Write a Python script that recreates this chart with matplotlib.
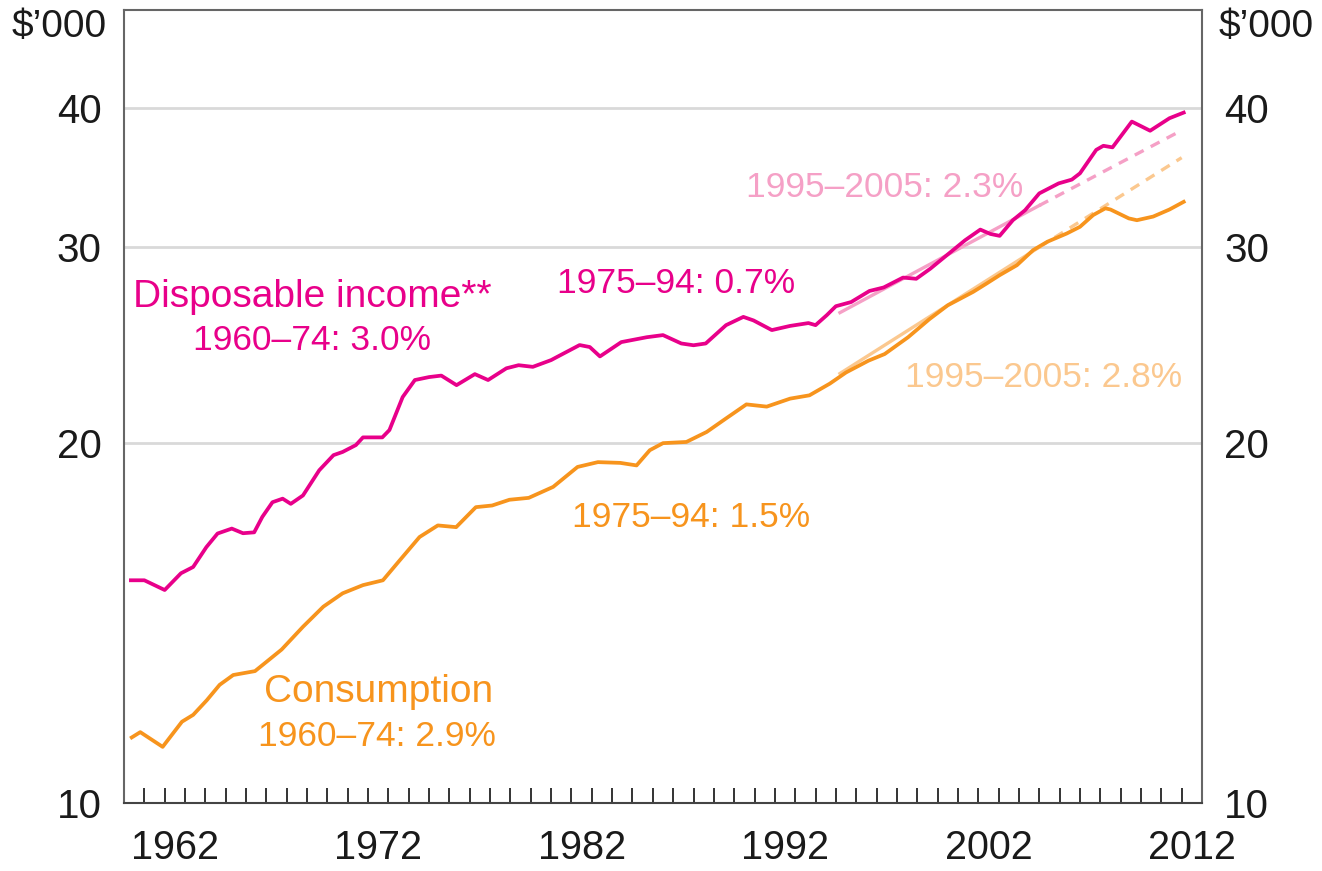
import matplotlib
matplotlib.use("Agg")
import matplotlib.pyplot as plt
from matplotlib.ticker import FixedLocator, NullLocator, FixedFormatter

plt.rcParams['font.family'] = ['Liberation Sans', 'DejaVu Sans']

# Real household disposable income and consumption per capita ($'000, log scale)
income_years = [1960.34, 1961.0, 1962.0, 1962.8, 1963.4, 1964.05, 1964.6, 1965.3, 1965.85, 1966.4,
                1966.8, 1967.3, 1967.8, 1968.2, 1968.8, 1969.6, 1970.3, 1970.75, 1971.4, 1971.75,
                1972.7, 1973.05, 1973.7, 1974.3, 1975.0, 1975.6, 1976.35, 1977.25, 1977.9, 1978.8,
                1979.4, 1980.1, 1981.0, 1981.3, 1982.4, 1982.9, 1983.4, 1984.45, 1985.7, 1986.5,
                1987.4, 1988.0, 1988.6, 1989.6, 1990.45, 1990.95, 1991.85, 1992.75, 1993.65, 1994.0,
                1994.55, 1995.0, 1995.75, 1996.65, 1997.35, 1998.3, 1998.95, 1999.65, 2000.3, 2001.35,
                2002.1, 2002.6, 2003.05, 2003.7, 2004.3, 2005.0, 2005.95, 2006.6, 2007.0, 2007.8,
                2008.15, 2008.6, 2009.55, 2010.45, 2011.4, 2012.1]
income = [15.06, 15.06, 14.76, 15.28, 15.48, 16.13, 16.59, 16.76, 16.60, 16.63,
          17.17, 17.70, 17.83, 17.64, 17.95, 18.91, 19.51, 19.64, 19.92, 20.24,
          20.24, 20.55, 22.0, 22.79, 22.93, 23.0, 22.55, 23.07, 22.79, 23.35,
          23.5, 23.42, 23.75, 23.91, 24.5, 24.4, 23.93, 24.65, 24.9, 25.01,
          24.58, 24.49, 24.58, 25.53, 25.97, 25.78, 25.27, 25.49, 25.64, 25.53,
          26.06, 26.55, 26.78, 27.4, 27.6, 28.17, 28.1, 28.7, 29.35, 30.43,
          31.11, 30.83, 30.71, 31.72, 32.38, 33.53, 34.23, 34.5, 34.95, 36.69,
          37.0, 36.88, 38.9, 38.17, 39.17, 39.63]

cons_years = [1960.38, 1960.8, 1961.9, 1962.85, 1963.4, 1964.07, 1964.7, 1965.37, 1966.44, 1967.0,
              1967.75, 1968.8, 1969.8, 1970.75, 1971.75, 1972.73, 1973.55, 1974.53, 1975.43, 1976.33,
              1977.3, 1978.1, 1978.95, 1979.9, 1981.1, 1982.3, 1983.3, 1984.4, 1985.2, 1985.85,
              1986.5, 1987.65, 1988.65, 1989.6, 1990.6, 1991.6, 1992.75, 1993.7, 1994.7, 1995.5,
              1996.6, 1997.4, 1998.55, 1999.6, 2000.5, 2001.75, 2002.4, 2003.05, 2003.9, 2004.7,
              2005.4, 2006.35, 2007.0, 2007.65, 2008.25, 2008.5, 2009.4, 2009.8, 2010.6, 2011.4,
              2012.1]
consumption = [10.88, 11.0, 10.67, 11.24, 11.4, 11.75, 12.13, 12.38, 12.48, 12.72,
               13.05, 13.68, 14.26, 14.66, 14.91, 15.06, 15.69, 16.47, 16.87, 16.81,
               17.52, 17.58, 17.79, 17.86, 18.27, 19.04, 19.23, 19.2, 19.1, 19.71,
               20.0, 20.05, 20.47, 21.05, 21.67, 21.57, 21.93, 22.08, 22.62, 23.15,
               23.72, 24.05, 24.9, 25.85, 26.6, 27.35, 27.82, 28.31, 28.9, 29.82,
               30.34, 30.86, 31.29, 32.06, 32.51, 32.43, 31.84, 31.72, 31.96, 32.43,
               32.95]

# 1995-2005 trends (fitted part, then extrapolated)
trend_years = [1995.2, 2005.0, 2012.0]
income_trend = [26.2, 32.7, 38.2]
cons_trend = [23.1, 30.0, 36.1]

PINK = '#E8008A'
PINK_LT = '#F5A0C6'
ORANGE = '#F7941D'
ORANGE_LT = '#FBC88F'

fig = plt.figure(figsize=(13.22, 8.71), dpi=100)
ax = fig.add_axes([124 / 1322, 1 - 803 / 871, (1202 - 124) / 1322, (803 - 10) / 871])

ax.set_yscale('log')
ax.set_ylim(9.5, 49.0)
ax.set_xlim(1960, 2013)

# trends
ax.plot(trend_years[:2], income_trend[:2], color=PINK_LT, lw=2.4, zorder=2)
ax.plot(trend_years[1:], income_trend[1:], color=PINK_LT, lw=2.4, dashes=(3.0, 2.4), zorder=2)
ax.plot(trend_years[:2], cons_trend[:2], color=ORANGE_LT, lw=2.4, zorder=2)
ax.plot(trend_years[1:], cons_trend[1:], color=ORANGE_LT, lw=2.4, dashes=(3.0, 2.4), zorder=2)

ax.plot(income_years, income, color=PINK, lw=2.7, zorder=3, solid_joinstyle='round')
ax.plot(cons_years, consumption, color=ORANGE, lw=2.7, zorder=3, solid_joinstyle='round')

# y axis
ax.yaxis.set_major_locator(FixedLocator([9.5, 20, 30, 40]))
ax.yaxis.set_major_formatter(FixedFormatter(['10', '20', '30', '40']))
ax.yaxis.set_minor_locator(NullLocator())
ax.tick_params(axis='y', which='both', length=0, pad=16, labelsize=29,
               labelleft=True, labelright=True, labelcolor='#1a1a1a')
for v in [20, 30, 40]:
    ax.axhline(v, color='#D9D9D9', lw=2, zorder=1)

# x axis: year ticks inside, labels centred in the year
ax.xaxis.set_major_locator(FixedLocator(list(range(1961, 2013))))
ax.xaxis.set_major_formatter(FixedFormatter([''] * 52))
label_years = [1962, 1972, 1982, 1992, 2002, 2012]
ax.xaxis.set_minor_locator(FixedLocator([y + 0.5 for y in label_years]))
ax.xaxis.set_minor_formatter(FixedFormatter([str(y) for y in label_years]))
ax.tick_params(axis='x', which='major', direction='in', length=10.8, width=1.4, color='#333333')
ax.tick_params(axis='x', which='minor', length=0, pad=19, labelsize=28.5, labelcolor='#1a1a1a')

for s in ax.spines.values():
    s.set_color('#666666')
    s.set_linewidth(1.5)
ax.spines['bottom'].set_color('#444444')

fig.text(107 / 1322, 1 - 27 / 871, '$\u2019000', ha='right', va='center', fontsize=28, color='#1a1a1a')
fig.text(1219 / 1322, 1 - 27 / 871, '$\u2019000', ha='left', va='center', fontsize=28, color='#1a1a1a')

# annotations
ax.text(1960.44, 27.06, 'Disposable income**', color=PINK, fontsize=28, ha='left', va='center')
ax.text(1969.24, 24.75, '1960\u201374: 3.0%', color=PINK, fontsize=25.5, ha='center', va='center')
ax.text(1987.14, 27.8, '1975\u201394: 0.7%', color=PINK, fontsize=25.5, ha='center', va='center')
ax.text(1997.41, 33.96, '1995\u20132005: 2.3%', color=PINK_LT, fontsize=25.5, ha='center', va='center')
ax.text(2005.23, 22.93, '1995\u20132005: 2.8%', color=ORANGE_LT, fontsize=25.5, ha='center', va='center')
ax.text(1987.9, 17.16, '1975\u201394: 1.5%', color=ORANGE, fontsize=25.5, ha='center', va='center')
ax.text(1972.51, 11.94, 'Consumption', color=ORANGE, fontsize=28, ha='center', va='center')
ax.text(1972.46, 10.89, '1960\u201374: 2.9%', color=ORANGE, fontsize=25.5, ha='center', va='center')

fig.savefig('out.png', dpi=100)
